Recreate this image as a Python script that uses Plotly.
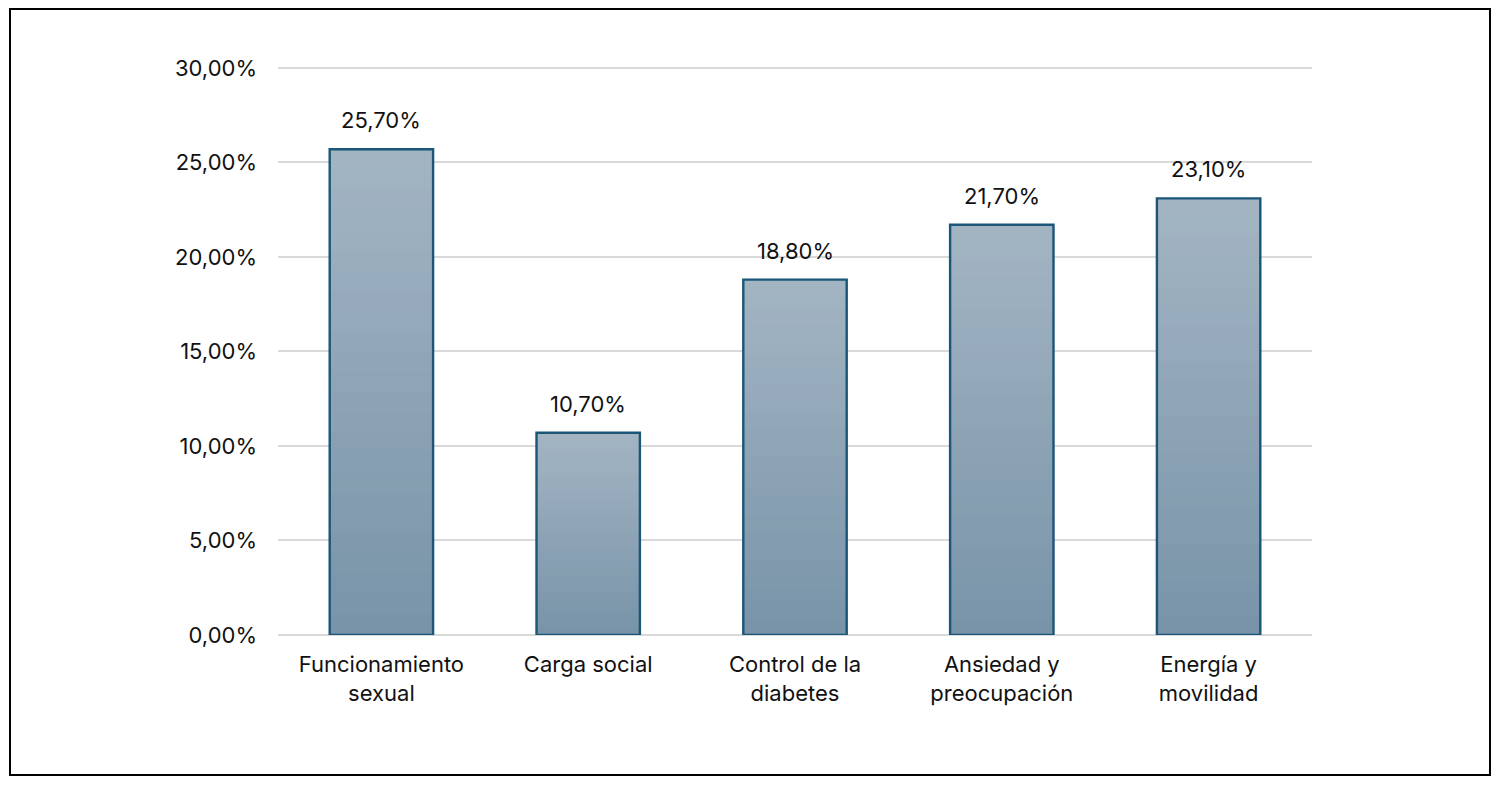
import plotly.graph_objects as go

categories = ["Funcionamiento<br>sexual", "Carga social", "Control de la<br>diabetes",
              "Ansiedad y<br>preocupación", "Energía y<br>movilidad"]
values = [0.257, 0.107, 0.188, 0.217, 0.231]
labels = ["25,70%", "10,70%", "18,80%", "21,70%", "23,10%"]

OFF = 8  # page body margin
W, H = 1500 - 2 * OFF, 785 - 2 * OFF
L, T = 278 - OFF, 66 - OFF
PR, PB = 1312 - OFF, 635 - OFF
R, B = W - PR, H - PB
pw, ph = PR - L, PB - T

FONT = "Inter, Liberation Sans, Arial, sans-serif"
FS = 22
top_rgb = (163, 181, 195)
bot_rgb = (120, 147, 168)
N = 24

fig = go.Figure()
# gradient: overlay bars of decreasing height, getting darker
for k in range(N, 0, -1):
    f = (k - 0.5) / N
    c = tuple(round(bot_rgb[i] + (top_rgb[i] - bot_rgb[i]) * f) for i in range(3))
    fig.add_trace(go.Bar(
        x=categories, y=[v * k / N for v in values],
        marker=dict(color="rgb(%d,%d,%d)" % c, line=dict(width=0)),
        hoverinfo="skip", showlegend=False))
# outline
fig.add_trace(go.Bar(
    x=categories, y=values,
    marker=dict(color="rgba(0,0,0,0)", line=dict(color="#1b5577", width=2.4)),
    showlegend=False))

for c, v, t in zip(categories, values, labels):
    fig.add_annotation(x=c, y=v, text=t, showarrow=False, yanchor="bottom",
                       yshift=14, font=dict(family=FONT, size=FS, color="#111"))

fig.add_shape(type="rect", xref="paper", yref="paper",
              x0=(2 - L) / pw, x1=(1482 - L) / pw,
              y0=(PB - 767) / ph, y1=(PB - 1) / ph,
              line=dict(color="#000", width=2), fillcolor="rgba(0,0,0,0)")

fig.update_layout(
    width=W, height=H, autosize=False,
    margin=dict(l=L, r=R, t=T, b=B),
    barmode="overlay", bargap=0.5,
    paper_bgcolor="white", plot_bgcolor="white",
    separators=",.",
    font=dict(family=FONT, size=FS, color="#111"),
    xaxis=dict(showgrid=False, showline=False, ticks="", ticklabelstandoff=14,
               tickfont=dict(size=FS)),
    yaxis=dict(range=[0, 0.301], dtick=0.05, tickformat=".2%", showgrid=True,
               gridcolor="#d9d9d9", gridwidth=2, zeroline=True, zerolinecolor="#d9d9d9",
               zerolinewidth=2, showline=False, ticks="", ticklabelstandoff=20,
               tickfont=dict(size=FS)),
)

fig.write_html("out.html")
